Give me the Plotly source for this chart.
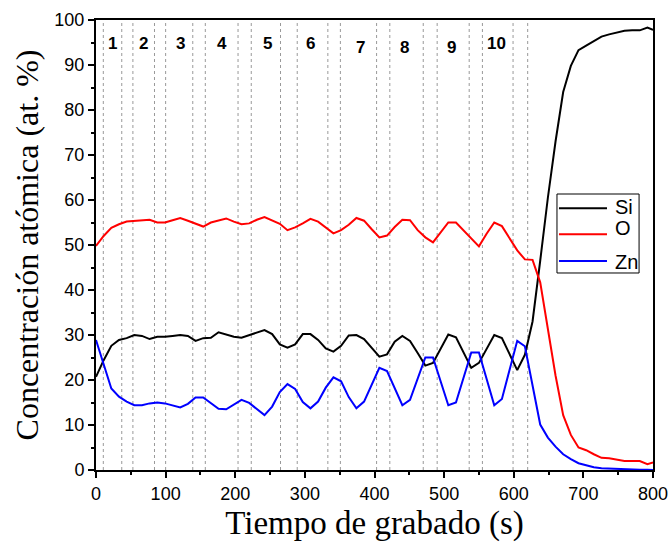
import plotly.graph_objects as go

# ---- data ----
tiempo = [0, 11, 22, 33, 44, 55, 66, 77, 88, 99, 110, 121, 132, 143, 154, 165, 176, 187, 198, 209,
          220, 231, 242, 253, 264, 275, 286, 297, 308, 319, 330, 341, 352, 363, 374, 385, 396, 407,
          418, 429, 440, 451, 462, 473, 484, 495, 506, 517, 528, 539, 550, 561, 572, 583, 594, 605,
          616, 627, 638, 649, 660, 671, 682, 693, 704, 715, 726, 737, 748, 759, 770, 781, 792, 800]

si = [20.7, 24.4, 27.6, 28.9, 29.3, 30.0, 29.8, 29.1, 29.6, 29.6, 29.8, 30.0, 29.8, 28.7, 29.3, 29.4,
      30.6, 30.1, 29.6, 29.4, 30.0, 30.6, 31.1, 30.2, 27.9, 27.2, 27.9, 30.2, 30.2, 28.9, 27.0, 26.3,
      27.6, 29.9, 30.0, 29.1, 27.2, 25.2, 25.7, 28.5, 29.8, 28.7, 26.0, 23.2, 23.8, 27.0, 30.1, 29.5,
      26.0, 22.7, 23.8, 27.0, 30.0, 29.3, 25.8, 22.2, 25.6, 33.0, 46.5, 60.5, 73.0, 84.0, 89.8, 93.3,
      94.3, 95.3, 96.3, 96.8, 97.2, 97.6, 97.7, 97.7, 98.3, 97.8]

o = [49.8, 52.0, 53.8, 54.6, 55.2, 55.3, 55.5, 55.6, 55.0, 55.0, 55.5, 56.0, 55.4, 54.8, 54.1, 55.0,
     55.4, 55.9, 55.2, 54.6, 54.8, 55.6, 56.2, 55.5, 54.7, 53.3, 53.9, 54.8, 55.8, 55.2, 53.8, 52.6,
     53.3, 54.5, 56.0, 55.4, 53.5, 51.7, 52.1, 54.0, 55.6, 55.5, 53.3, 51.7, 50.6, 52.8, 55.0, 55.0,
     53.2, 51.4, 49.7, 52.5, 55.0, 54.2, 51.5, 48.8, 46.8, 46.7, 41.7, 31.0, 21.0, 12.2, 7.8, 5.0,
     4.4, 3.5, 2.7, 2.6, 2.3, 2.0, 2.0, 2.0, 1.3, 1.7]

zn = [28.9, 23.5, 18.1, 16.3, 15.2, 14.4, 14.4, 14.8, 15.0, 14.8, 14.3, 13.9, 14.7, 16.1, 16.1, 14.9,
      13.6, 13.5, 14.5, 15.6, 14.9, 13.5, 12.2, 14.1, 17.3, 19.1, 18.0, 15.1, 13.7, 15.2, 18.3, 20.6,
      19.7, 16.2, 13.7, 15.2, 19.0, 22.7, 22.0, 18.0, 14.4, 15.6, 20.3, 25.0, 25.0, 19.5, 14.4, 15.0,
      20.5, 26.1, 26.1, 20.0, 14.4, 15.8, 22.0, 28.7, 27.5, 19.0, 10.1, 7.2, 5.2, 3.5, 2.4, 1.5,
      1.0, 0.6, 0.4, 0.3, 0.2, 0.1, 0.1, 0.05, 0.05, 0.0]

# dotted separators (s)
separadores = [10.5, 37, 53, 84, 100, 139, 157, 204, 223, 265, 289, 333, 351, 403, 422, 470, 490,
               536, 555, 599, 620]

# layer labels
capas = ["1", "2", "3", "4", "5", "6", "7", "8", "9", "10"]
capas_x = [24, 68, 121, 181, 247, 308, 380, 443, 511, 575]
capas_y = [94.7, 94.7, 94.7, 94.7, 94.7, 94.7, 94.0, 94.0, 94.0, 94.7]

series = [("Si", si, "black"), ("O", o, "red"), ("Zn", zn, "blue")]

fig = go.Figure()
for name, vals, col in series:
    fig.add_trace(go.Scatter(x=tiempo, y=vals, mode="lines", name=name,
                             line=dict(color=col, width=2), showlegend=False))

shapes = []
for sx in separadores:
    shapes.append(dict(type="line", xref="x", yref="paper", x0=sx, x1=sx, y0=0, y1=1,
                       line=dict(color="#999999", width=1, dash="dot"), layer="below"))

# custom legend (box, samples, labels) in paper coordinates
shapes.append(dict(type="rect", xref="paper", yref="paper", x0=0.8276, x1=0.975,
                   y0=0.4378, y1=0.6133, line=dict(color="black", width=1),
                   fillcolor="white"))
leg_line_y = [0.5816, 0.5238, 0.4644]
leg_text_y = [0.5851, 0.5371, 0.4616]
annotations = []
for (name, vals, col), ly, ty in zip(series, leg_line_y, leg_text_y):
    shapes.append(dict(type="line", xref="paper", yref="paper", x0=0.8312, x1=0.9174,
                       y0=ly, y1=ly, line=dict(color=col, width=2)))
    annotations.append(dict(xref="paper", yref="paper", x=0.9287, y=ty, text=name,
                            showarrow=False, xanchor="left", yanchor="middle",
                            font=dict(family="Arial, Liberation Sans", size=20, color="black")))

for lab, lx, ly in zip(capas, capas_x, capas_y):
    annotations.append(dict(x=lx, y=ly, xref="x", yref="y", text="<b>%s</b>" % lab,
                            showarrow=False,
                            font=dict(family="Arial, Liberation Sans", size=17, color="black")))

axis_common = dict(showline=True, linecolor="black", linewidth=2, mirror=True,
                   ticks="outside", ticklen=6, tickwidth=1.5, tickcolor="black",
                   showgrid=False, zeroline=False, automargin=False,
                   ticklabeloverflow="allow",
                   tickfont=dict(family="Arial, Liberation Sans", size=18, color="black"))

fig.update_layout(
    width=668, height=543,
    margin=dict(l=96, r=15, t=20, b=73),
    paper_bgcolor="white", plot_bgcolor="white",
    shapes=shapes, annotations=annotations,
    xaxis=dict(range=[0, 800], dtick=100, tick0=0,
               minor=dict(dtick=50, ticklen=3, ticks="outside", tickcolor="black"),
               title=dict(text="Tiempo de grabado (s)", standoff=8,
                          font=dict(family="Liberation Serif, Times New Roman", size=33,
                                    color="black")),
               **axis_common),
    yaxis=dict(range=[0, 100], dtick=10, tick0=0,
               minor=dict(dtick=5, ticklen=3, ticks="outside", tickcolor="black"),
               title=dict(text="Concentración atómica (at. %)", standoff=6,
                          font=dict(family="Liberation Serif, Times New Roman", size=32,
                                    color="black")),
               **axis_common),
)

fig.write_html("out.html")
